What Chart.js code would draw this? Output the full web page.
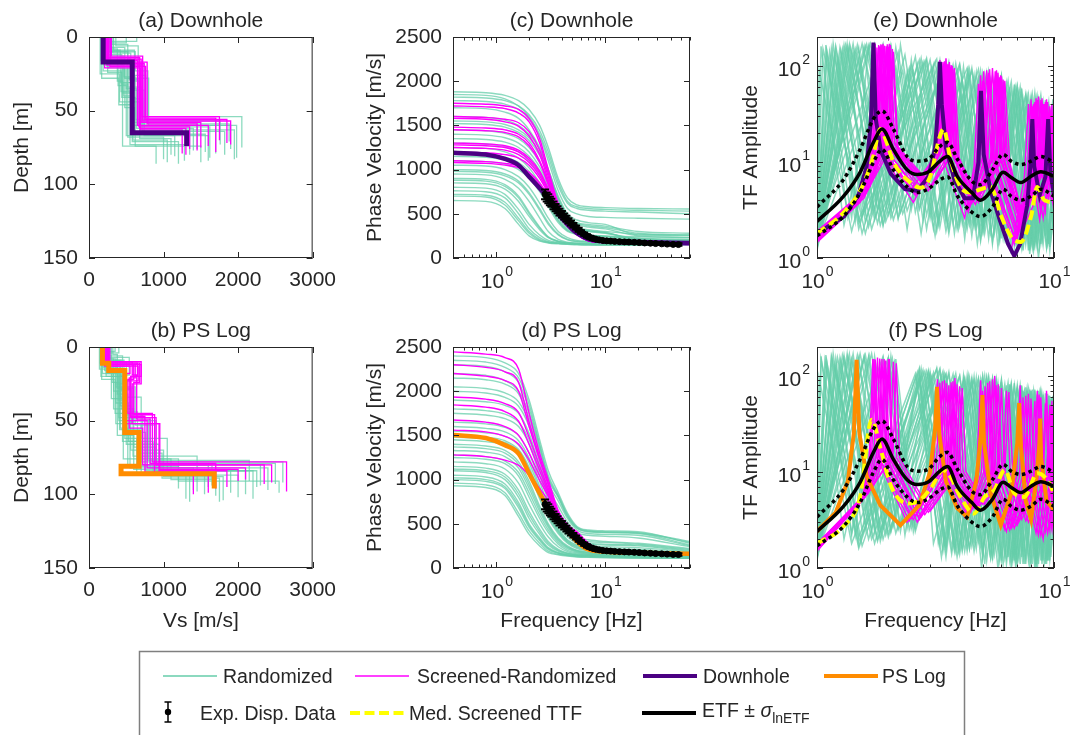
<!DOCTYPE html>
<html>
<head>
<meta charset="utf-8">
<script src="https://cdn.jsdelivr.net/npm/chart.js@4/dist/chart.umd.min.js"></script>
<style>
  body { margin: 0; background: #fff; width: 1075px; height: 735px; overflow: hidden; position: relative; }
  canvas { position: absolute; }
  #legend { position: absolute; left: 0; top: 0; font-family: "Liberation Sans", Arial, sans-serif; font-size: 19.5px; fill: #262626; }
</style>
</head>
<body>
<canvas id="pa" width="346" height="300" style="left:0;top:0"></canvas>
<canvas id="pc" width="346" height="300" style="left:364px;top:0"></canvas>
<canvas id="pe" width="346" height="300" style="left:728px;top:0"></canvas>
<canvas id="pb" width="346" height="338" style="left:0;top:310px"></canvas>
<canvas id="pd" width="346" height="338" style="left:364px;top:310px"></canvas>
<canvas id="pf" width="346" height="338" style="left:728px;top:310px"></canvas>

<svg id="legend" width="1075" height="735">
  <rect x="139.5" y="651.5" width="825" height="110" fill="none" stroke="#7f7f7f" stroke-width="1.5"/>
  <line x1="163" y1="676" x2="217" y2="676" stroke="#66cdaa" stroke-width="1.5"/>
  <text x="223" y="676" dominant-baseline="central">Randomized</text>
  <line x1="355" y1="676" x2="409" y2="676" stroke="#ff00ff" stroke-width="1.5"/>
  <text x="417" y="676" dominant-baseline="central">Screened-Randomized</text>
  <line x1="643" y1="676" x2="697" y2="676" stroke="#4b0082" stroke-width="4"/>
  <text x="703" y="676" dominant-baseline="central">Downhole</text>
  <line x1="824" y1="676" x2="878" y2="676" stroke="#ff8c00" stroke-width="4"/>
  <text x="882" y="676" dominant-baseline="central">PS Log</text>
  <path d="M168 702 V722 M164.5 702 H171.5 M164.5 722 H171.5" stroke="#000" stroke-width="1.5" fill="none"/>
  <circle cx="168" cy="712" r="3.2" fill="#000"/>
  <text x="200" y="713" dominant-baseline="central">Exp. Disp. Data</text>
  <line x1="350" y1="713" x2="405" y2="713" stroke="#ffff00" stroke-width="4" stroke-dasharray="10 4.5"/>
  <text x="409" y="713" dominant-baseline="central">Med. Screened TTF</text>
  <line x1="642" y1="713" x2="696" y2="713" stroke="#000" stroke-width="4"/>
  <text x="702" y="710" dominant-baseline="central">ETF ± <tspan font-style="italic">σ</tspan><tspan font-size="14" dy="8">lnETF</tspan></text>
</svg>

<script>
const FONT = '"Liberation Sans", Arial, sans-serif';
const INK = '#262626';
const C_RAND = 'rgba(102,205,170,0.75)';
const C_SCR = '#ff00ff';
const C_DH = '#4b0082';
const C_PS = '#ff8c00';
const C_MED = '#ffff00';

// Vs profiles: each layer is [Vs m/s, bottom depth m]
const profRandA = [
  [[170,9],[420,31],[560,58],[1450,76]],
  [[220,13],[470,27],[620,56],[1700,79]],
  [[300,5],[520,34],[700,63],[1950,83]],
  [[160,16],[390,33],[500,67],[1150,81]],
  [[260,10],[620,23],[790,54],[2050,75]],
  [[200,19],[460,40],[590,70],[1050,85]],
  [[360,6],[660,19],[740,61],[1620,82]],
  [[190,23],[430,37],[550,73],[1280,84]],
  [[280,14],[540,29],[660,59],[1880,71]],
  [[640,3],[250,21],[480,48],[610,65],[1350,80]],
  [[230,8],[380,30],[450,74],[900,86]],
  [[150,25],[410,44],[680,66],[1560,78]],
  [[320,11],[560,26],[760,57],[1760,73]],
  [[210,17],[500,35],[640,62],[1400,77]],
  [[180,12],[440,32],[520,68],[1000,83]],
  [[240,20],[600,42],[720,64],[1820,80]],
  [[500,4],[200,15],[450,38],[580,71],[1200,86]],
  [[270,7],[480,28],[800,60],[1980,82]],
  [[200,10],[520,36],[740,67],[1600,84]],
  [[170,28],[400,46],[560,60],[1900,76]],
  [[330,9],[610,30],[680,69],[1100,80]],
  [[250,24],[440,41],[620,74],[1500,85]]
];
const profScrA = [
  [[220,15],[700,58],[1500,75]],
  [[250,18],[740,56],[1850,72]],
  [[200,14],[680,62],[1300,80]],
  [[280,20],[760,55],[1700,78]],
  [[230,16],[650,60],[1600,74]],
  [[300,13],[720,57],[1900,73]],
  [[210,21],[690,63],[1250,79]],
  [[260,17],[780,59],[1450,77]],
  [[240,19],[710,54],[1750,70]],
  [[290,15],[670,61],[1350,76]]
];
const profDownhole = [[190,17],[580,65],[1310,74]];

const profRandB = [
  [[160,8],[330,30],[420,55],[520,80],[1600,95]],
  [[200,12],[380,28],[600,50],[900,84],[2100,100]],
  [[280,6],[450,25],[360,52],[700,78],[2600,92]],
  [[140,15],[300,35],[480,62],[640,86],[1300,103]],
  [[240,10],[500,20],[400,48],[820,82],[2400,97]],
  [[180,18],[420,40],[560,70],[1000,88],[1800,104]],
  [[320,5],[380,32],[520,58],[760,84],[2250,95]],
  [[170,22],[350,45],[460,76],[1100,90],[1700,101]],
  [[220,9],[470,27],[620,53],[880,79],[2500,93]],
  [[400,4],[260,17],[440,42],[590,74],[1450,98]],
  [[190,14],[390,36],[500,66],[940,87],[2000,102]],
  [[150,11],[310,24],[410,56],[680,81],[1200,96]],
  [[260,7],[540,19],[480,46],[720,80],[2300,94]],
  [[210,16],[360,38],[530,64],[860,85],[1550,100]],
  [[300,9],[430,30],[380,60],[600,83],[1900,99]],
  [[170,13],[410,29],[570,52],[780,77],[2150,91]],
  [[230,20],[480,44],[650,72],[980,89],[1750,105]],
  [[350,3],[230,18],[400,50],[550,82],[1400,97]],
  [[190,10],[420,34],[700,62],[1050,84],[2200,103]],
  [[250,15],[330,42],[600,68],[900,80],[1650,94]],
  [[160,20],[450,50],[800,76],[1200,91],[2550,99]],
  [[280,8],[360,27],[450,64],[700,87],[1350,105]]
];
const profScrB = [
  [[220,11],[650,20],[560,48],[900,80],[2450,92]],
  [[250,12],[600,22],[520,45],[850,78],[2650,98]],
  [[200,10],[700,25],[580,52],[940,84],[1850,95]],
  [[280,13],[550,18],[500,50],[780,82],[2100,90]],
  [[240,11],[680,24],[600,46],[880,86],[1400,100]],
  [[260,12],[620,21],[540,55],[720,80],[2350,93]],
  [[230,10],[580,19],[640,49],[820,79],[1700,96]],
  [[210,13],[660,23],[500,52],[950,83],[2000,91]],
  [[270,12],[700,20],[560,47],[750,85],[1600,99]]
];
const profPsLog = [[180,11],[265,16],[480,58],[670,81],[430,86],[1680,96]];

// dispersion curves: phase velocity at these frequencies (Hz)
const dispFreq = [0.4, 0.8, 1.2, 1.6, 2, 2.5, 3, 3.7, 4.5, 5.5, 7, 10, 20, 60];
const dispRandC = [
  [1880,1870,1840,1780,1680,1500,1250,900,680,600,580,570,560,555],
  [1850,1840,1800,1720,1600,1400,1150,820,620,560,540,530,520,500],
  [1780,1770,1740,1680,1570,1380,1100,760,560,500,470,460,450,440],
  [1700,1690,1650,1580,1450,1250,1000,700,500,430,400,380,260,250],
  [1600,1590,1560,1500,1400,1230,1000,680,480,400,380,360,300,280],
  [1520,1510,1480,1420,1330,1160,950,650,450,380,350,330,250,230],
  [1450,1440,1410,1350,1250,1080,880,600,420,350,320,300,270,260],
  [1400,1390,1360,1300,1200,1030,830,560,400,340,310,290,200,190],
  [1300,1290,1260,1200,1100,940,760,520,380,330,300,280,220,200],
  [1250,1240,1200,1130,1020,850,680,460,330,280,260,250,240,230],
  [1100,1090,1060,1000,900,750,580,400,300,270,250,240,200,190],
  [1050,1040,1000,920,800,620,450,300,230,200,190,180,175,170],
  [1000,990,950,870,740,560,400,270,210,190,180,175,170,165],
  [950,940,890,790,640,450,300,210,180,170,165,160,160,155],
  [900,890,830,700,520,350,240,190,170,165,160,158,155,150],
  [850,840,780,640,470,320,230,185,170,160,158,155,152,150],
  [800,790,720,550,380,260,200,175,165,160,155,152,150,150],
  [760,750,680,500,330,230,185,170,160,155,152,150,150,150],
  [700,690,600,420,280,200,175,165,160,155,150,150,150,150],
  [650,640,560,380,250,190,170,160,155,150,150,150,150,150],
  [1820,1810,1780,1720,1620,1440,1200,860,640,580,560,550,540,530],
  [1350,1340,1310,1250,1150,990,800,540,390,335,305,285,210,195],
  [1180,1170,1140,1080,980,820,630,430,315,275,255,245,225,210],
  [980,970,930,850,720,540,380,260,205,185,178,172,168,162],
  [880,870,810,680,500,340,235,188,170,163,158,156,153,150],
  [720,710,630,450,300,210,178,166,160,155,152,150,150,150],
  [1550,1540,1510,1450,1360,1190,980,670,470,395,365,345,280,260],
  [1150,1140,1110,1050,950,800,610,420,310,275,255,245,215,200]
];
const dispScrC = [
  [1750,1740,1720,1680,1580,1350,1000,620,420,300,210,185,175,165],
  [1720,1710,1690,1640,1540,1300,960,600,410,295,205,182,172,162],
  [1600,1590,1570,1530,1430,1220,920,590,400,290,205,180,170,160],
  [1580,1570,1540,1490,1380,1170,880,570,395,285,200,180,170,160],
  [1480,1470,1450,1400,1300,1100,850,560,390,285,200,180,168,158],
  [1450,1440,1420,1370,1270,1080,830,550,385,280,200,178,168,158],
  [1300,1290,1270,1220,1130,980,780,540,380,280,200,178,166,156],
  [1280,1270,1250,1200,1110,960,770,530,375,275,198,176,165,155],
  [1250,1240,1220,1170,1080,930,750,520,370,270,196,175,165,155],
  [1200,1190,1170,1130,1050,900,730,510,365,268,195,175,164,154],
  [1100,1090,1070,1040,970,850,700,500,360,265,195,174,163,153],
  [1080,1070,1050,1020,950,830,690,495,355,262,194,173,162,152]
];
const dispDownhole = [1190,1170,1120,1050,920,790,670,500,380,280,215,190,180,170];

const dispRandD = [
  [2400,2380,2320,2200,1900,1450,1100,850,620,470,430,420,410,280],
  [2350,2330,2270,2150,1850,1400,1050,820,600,460,420,410,400,300],
  [2200,2180,2120,2000,1750,1350,1000,800,580,450,410,400,390,260],
  [2150,2130,2080,1970,1700,1300,960,760,560,430,390,380,370,250],
  [2050,2030,1980,1880,1650,1250,900,700,520,400,370,360,340,240],
  [2000,1980,1930,1830,1600,1200,850,620,450,350,320,300,280,220],
  [1800,1780,1740,1650,1450,1100,800,560,400,310,280,270,260,200],
  [1750,1730,1690,1600,1400,1050,760,520,380,300,270,260,250,190],
  [1650,1630,1590,1500,1300,980,700,480,350,280,250,240,230,180],
  [1600,1580,1540,1440,1240,920,650,450,320,260,230,220,210,170],
  [1500,1480,1440,1340,1140,840,600,420,300,240,210,200,190,160],
  [1450,1430,1390,1290,1080,780,560,390,280,220,195,185,175,150],
  [1400,1380,1330,1200,980,700,500,340,250,200,180,170,160,140],
  [1330,1310,1260,1130,900,640,460,310,230,190,170,160,150,130],
  [1250,1230,1180,1040,800,560,400,270,200,170,155,150,140,120],
  [1200,1180,1120,960,720,500,350,240,185,160,150,145,135,120],
  [1150,1130,1060,880,640,440,300,210,170,150,145,140,130,120],
  [1100,1080,1000,800,560,380,260,190,160,145,140,135,125,115],
  [1050,1030,950,740,500,340,230,175,150,140,135,130,120,110],
  [1000,980,900,680,460,310,210,165,145,135,130,125,120,110],
  [960,940,850,620,420,280,190,155,140,130,125,120,115,110],
  [930,910,820,580,380,250,175,150,135,125,120,115,110,110],
  [2300,2280,2220,2100,1800,1380,1020,810,590,455,415,405,395,290],
  [1900,1880,1840,1750,1520,1150,830,600,430,330,300,290,270,210],
  [1550,1530,1490,1390,1190,880,620,430,310,250,220,210,200,165],
  [1370,1350,1300,1170,940,670,480,325,240,195,175,165,155,135],
  [1280,1260,1210,1080,850,600,430,290,215,180,162,155,145,125],
  [1120,1100,1030,840,600,410,280,200,165,148,142,137,127,118],
  [1020,1000,920,710,480,325,220,170,148,137,132,127,120,110],
  [1480,1460,1420,1320,1110,810,580,405,290,230,200,190,180,155]
];
const dispScrD = [
  [2445,2420,2380,2250,1750,1300,1000,650,490,410,280,190,175,160],
  [2300,2270,2220,2100,1650,1250,960,630,480,400,280,190,175,160],
  [2200,2170,2120,2000,1600,1220,940,620,475,400,275,188,174,160],
  [1935,1910,1860,1760,1480,1150,900,600,465,390,270,188,173,158],
  [1845,1820,1770,1660,1400,1100,870,590,460,385,270,186,172,158],
  [1675,1650,1600,1500,1300,1040,840,580,455,380,265,186,172,157],
  [1560,1540,1490,1400,1220,990,810,570,450,375,265,185,171,157],
  [1280,1260,1220,1160,1050,900,760,550,440,370,260,185,170,156]
];
const dispPsLog = [1505,1470,1390,1295,1070,845,680,540,420,300,210,185,172,162];

// experimental dispersion data with error bars
const expFreq = [2.8, 2.9, 3.0, 3.1, 3.2, 3.35, 3.5, 3.65, 3.8, 4.0, 4.2, 4.4, 4.6, 4.85, 5.1, 5.4, 5.7, 6.0, 6.4, 6.8,
  7.2, 7.7, 8.2, 8.8, 9.5, 10.3, 11.2, 12.2, 13.5, 15, 16.5, 18.5, 20.5, 23, 26, 29, 33, 37, 42, 47];
const expVel = [720, 690, 670, 645, 625, 595, 570, 545, 520, 495, 470, 445, 420, 395, 370, 345, 320, 295, 270, 250,
  235, 222, 212, 205, 198, 194, 191, 188, 185, 182, 180, 177, 174, 170, 167, 163, 160, 157, 154, 152];
const expErr = [55, 52, 50, 48, 46, 44, 42, 40, 38, 36, 34, 32, 30, 28, 26, 24, 22, 20, 19, 18,
  18, 17, 17, 16, 16, 16, 16, 15, 15, 15, 15, 15, 15, 14, 14, 14, 14, 14, 14, 14];

// transfer functions: [f, amplitude, f, amplitude, ...]
const ttfRandE = [
  [1,3.0, 1.06,150, 1.6,1.8, 2.5,100, 3.2,1.9, 4.1,70, 4.9,1.6, 5.9,55, 6.8,1.3, 7.9,40, 8.8,1.4, 9.8,35, 10,8],
  [1,1.6, 1.2,160, 1.7,2.0, 2.8,110, 3.6,1.8, 4.6,80, 5.5,1.5, 6.8,50, 7.8,1.2, 9.1,38, 10,2],
  [1,1.4, 1.32,165, 1.9,2.2, 3.0,115, 3.9,2.0, 5.0,75, 6.1,1.6, 7.4,45, 8.5,1.3, 10,30],
  [1,1.3, 1.45,150, 2.1,2.5, 3.4,100, 4.4,2.2, 5.6,70, 6.8,1.5, 8.3,40, 9.4,1.4, 10,4],
  [1,1.5, 1.55,170, 2.2,2.6, 3.7,95, 4.7,2.0, 6.2,60, 7.4,1.3, 9.2,38, 10,5],
  [1,1.8, 1.13,140, 1.5,2.0, 2.3,90, 2.9,2.0, 3.7,75, 4.5,1.7, 5.4,60, 6.3,1.4, 7.2,45, 8.2,1.2, 9.4,35, 10,3],
  [1,1.7, 1.25,155, 1.8,2.3, 2.65,105, 3.3,2.1, 4.3,85, 5.1,1.8, 6.4,55, 7.3,1.3, 8.7,42, 10,2],
  [1,1.4, 1.38,160, 2.0,2.8, 3.15,110, 4.0,2.5, 5.2,80, 6.2,1.7, 7.7,48, 8.9,1.5, 10,20],
  [1,1.9, 1.62,168, 2.3,2.9, 3.9,90, 5.0,2.2, 6.6,55, 8.0,1.4, 9.7,30, 10,8],
  [1,1.2, 1.5,120, 1.9,2.2, 2.4,85, 3.1,2.0, 4.0,70, 4.9,1.5, 6.0,50, 7.0,1.1, 8.4,35, 9.6,1.2, 10,3],
  [1,2.2, 1.02,90, 1.4,1.9, 2.15,100, 2.75,1.8, 3.5,80, 4.2,1.6, 5.0,65, 5.8,1.3, 6.9,48, 7.9,1.1, 9.0,40, 10,1.8],
  [1,1.5, 1.18,130, 1.65,2.1, 2.7,115, 3.5,1.9, 4.8,75, 5.9,1.5, 7.1,52, 8.2,1.2, 9.6,36, 10,10],
  [1,1.35, 1.42,140, 1.95,2.4, 3.25,105, 4.2,2.1, 5.4,72, 6.6,1.4, 8.0,45, 9.3,1.3, 10,6],
  [1,1.6, 1.28,150, 1.75,2.5, 2.9,120, 3.75,2.3, 4.9,90, 5.9,1.7, 7.0,58, 8.1,1.3, 9.4,40, 10,4],
  [1,1.45, 1.6,160, 2.25,3.0, 3.6,85, 4.6,2.4, 5.9,68, 7.1,1.4, 8.6,44, 9.7,1.6, 10,3],
  [1,2.0, 1.1,145, 1.55,1.8, 2.45,95, 3.15,1.7, 3.95,72, 4.75,1.4, 5.7,52, 6.6,1.1, 7.6,38, 8.6,1.0, 9.8,30, 10,12],
  [1,1.3, 1.68,170, 2.4,3.1, 4.0,105, 5.1,2.3, 6.9,62, 8.2,1.5, 10,34],
  [1,1.55, 1.35,155, 1.85,2.2, 3.05,98, 3.95,2.0, 5.1,82, 6.2,1.6, 7.6,50, 8.7,1.3, 10,25],
  [1,1.9, 1.22,120, 1.6,2.4, 2.55,88, 3.25,2.2, 4.25,66, 5.05,1.9, 6.1,46, 7.0,1.6, 8.2,35, 9.2,1.7, 10,20],
  [1,1.25, 1.48,165, 2.05,2.6, 3.5,112, 4.5,2.2, 5.8,78, 6.9,1.5, 8.4,46, 9.5,1.4, 10,6],
  [1,1.7, 1.9,170, 2.5,3.5, 4.3,95, 5.4,2.6, 7.3,55, 8.6,1.8, 10,30],
  [1,1.4, 2.05,165, 2.7,3.2, 4.5,88, 5.6,2.4, 7.6,50, 8.9,1.6, 10,22],
  [1,2.4, 1.04,160, 1.3,2.2, 1.9,120, 2.4,2.0, 3.1,100, 3.8,1.8, 4.7,85, 5.5,1.4, 6.5,60, 7.4,1.2, 8.6,45, 9.6,1.3, 10,10],
  [1,1.6, 1.15,150, 1.45,2.4, 1.75,160, 2.2,2.6, 2.9,110, 3.6,2.0, 4.4,90, 5.3,1.6, 6.3,65, 7.3,1.3, 8.5,48, 10,2],
  [1,1.5, 1.34,170, 1.6,3.0, 2.0,150, 2.5,3.2, 3.3,115, 4.1,2.3, 5.2,85, 6.3,1.6, 7.8,50, 9.0,1.4, 10,15],
  [1,2.0, 1.09,165, 1.35,2.6, 2.2,140, 2.8,2.5, 3.45,100, 4.3,2.0, 5.5,78, 6.7,1.5, 8.0,48, 9.3,1.3, 10,8],
  [1,1.4, 1.26,140, 1.55,2.8, 2.35,130, 3.0,2.6, 3.85,105, 4.9,2.0, 6.4,70, 7.6,1.4, 9.0,42, 10,3],
  [1,1.8, 1.42,170, 1.8,3.2, 2.6,125, 3.25,2.4, 4.5,95, 5.6,1.8, 7.0,62, 8.3,1.4, 9.8,40, 10,12],
  [1,1.3, 1.58,160, 1.9,3.0, 2.25,165, 2.9,2.8, 4.0,100, 5.0,2.2, 6.6,68, 7.8,1.5, 9.5,42, 10,6],
  [1,2.2, 1.17,170, 1.5,2.5, 2.85,112, 3.5,2.4, 4.15,98, 5.0,1.9, 6.0,75, 7.0,1.4, 8.3,52, 9.5,1.5, 10,7],
  [1,1.5, 1.5,155, 1.85,2.8, 3.5,105, 4.3,2.5, 5.3,88, 6.4,1.7, 7.3,58, 8.4,1.4, 9.9,45, 10,20],
  [1,1.7, 1.3,165, 1.7,3.0, 2.05,160, 2.6,3.0, 3.6,110, 4.6,2.1, 6.0,80, 7.0,1.7, 8.8,50, 10,3],
  [1,1.9, 1.66,165, 2.1,3.4, 2.5,115, 3.1,2.6, 4.8,92, 5.8,2.0, 7.2,60, 8.5,1.6, 10,38],
  [1,1.35, 1.2,150, 1.5,2.3, 3.2,118, 4.0,2.2, 5.0,84, 6.0,1.6, 6.8,64, 7.9,1.2, 9.2,44, 10,4],
  [1,1.6, 1.1,120, 1.4,2.6, 1.65,155, 2.05,3.0, 2.75,120, 3.5,2.5, 4.35,92, 5.4,1.8, 6.8,58, 8.0,1.5, 9.5,40, 10,6],
  [1,1.45, 1.37,168, 1.75,2.9, 2.15,155, 2.7,3.3, 3.75,102, 4.7,2.3, 5.7,80, 6.9,1.6, 8.1,50, 9.4,1.5, 10,10]
];
const ttfScrE = [
  [1,1.6, 1.5,4, 1.68,12, 1.76,170, 1.86,14, 2.6,4.5, 3.12,12, 3.3,115, 3.5,12, 4.3,3.2, 4.7,10, 4.9,80, 5.12,10, 6.8,1.4, 7.7,7, 8.0,45, 8.3,7, 8.8,3, 9.3,7, 9.6,35, 9.85,7, 10,4],
  [1,1.7, 1.55,4.5, 1.74,14, 1.82,165, 1.92,14, 2.7,5, 3.25,12, 3.4,110, 3.57,12, 4.4,3.5, 4.98,11, 5.2,90, 5.45,11, 7.0,1.6, 8.0,8, 8.3,42, 8.6,8, 10,5],
  [1,1.5, 1.6,4.8, 1.81,15, 1.9,170, 2.0,15, 2.75,5.5, 3.35,13, 3.5,120, 3.68,13, 4.5,4, 5.25,11, 5.5,95, 5.78,11, 7.2,2, 8.25,8, 8.6,48, 8.95,8, 10,6],
  [1,1.8, 1.62,5, 1.87,15, 1.96,160, 2.06,15, 2.8,6, 3.44,12, 3.6,105, 3.78,12, 4.6,4.2, 5.55,11, 5.8,85, 6.08,11, 7.3,2.5, 8.65,8, 9.0,40, 9.35,8, 10,6],
  [1,1.9, 1.66,5.5, 1.93,16, 2.02,170, 2.12,16, 2.9,6.5, 3.56,12, 3.72,100, 3.9,12, 4.7,4.5, 5.75,11, 6.0,78, 6.3,11, 7.4,2.8, 8.95,8, 9.3,45, 9.65,8, 10,8],
  [1,1.55, 1.58,4.2, 1.98,14, 2.08,150, 2.18,14, 3.0,5.2, 3.64,11, 3.8,95, 3.98,11, 4.8,3.8, 5.95,10, 6.2,70, 6.5,10, 7.5,2.2, 9.25,7, 9.6,38, 9.95,7, 10,6],
  [1,1.45, 1.52,3.8, 1.72,12, 1.79,155, 1.88,12, 2.55,3.8, 3.14,10, 3.28,90, 3.44,10, 4.2,2.6, 4.6,9, 4.8,65, 5.02,9, 6.6,1.2, 7.5,7, 7.8,40, 8.1,7, 8.7,2.5, 9.1,6, 9.4,30, 9.7,6, 10,3],
  [1,1.65, 1.57,4.4, 1.78,14, 1.86,168, 1.95,14, 2.65,4.8, 3.3,12, 3.45,112, 3.62,12, 4.4,3.3, 5.12,11, 5.35,92, 5.6,11, 7.1,1.8, 8.05,8, 8.4,46, 8.75,8, 10,3.5],
  [1,1.75, 1.64,5.2, 1.85,15, 1.93,162, 2.02,15, 2.85,5.8, 3.4,12, 3.55,104, 3.72,12, 4.55,3.9, 5.4,11, 5.65,88, 5.92,11, 7.2,2.3, 8.45,8, 8.8,44, 9.15,8, 10,4.5],
  [1,1.5, 1.54,4.1, 1.91,14, 2.0,158, 2.09,14, 2.95,5.0, 3.5,11, 3.65,98, 3.82,11, 4.65,3.6, 5.65,10, 5.9,76, 6.18,10, 7.3,2.0, 8.75,8, 9.1,40, 9.45,8, 10,5],
  [1,1.6, 1.6,4.6, 2.01,13, 2.1,140, 2.2,13, 3.05,5.6, 3.6,11, 3.75,92, 3.92,11, 4.75,4.0, 5.85,10, 6.1,72, 6.38,10, 7.4,2.6, 9.05,8, 9.4,42, 9.75,8, 10,7],
  [1,1.85, 1.68,5.6, 1.72,20, 1.75,120, 1.8,14, 2.5,5.2, 3.2,12, 3.35,108, 3.5,12, 4.35,3.0, 4.8,9, 5.0,70, 5.22,9, 6.9,1.5, 7.8,7, 8.1,38, 8.4,7, 9.0,2.6, 9.5,7, 9.8,40, 10,8],
  [1,1.7, 1.6,4.8, 1.8,15, 1.88,165, 1.97,15, 2.7,5.3, 3.28,12, 3.43,106, 3.6,12, 4.5,3.7, 5.1,11, 5.3,85, 5.55,11, 7.0,1.8, 8.15,8, 8.5,44, 8.85,8, 9.5,4, 9.8,30, 10,6],
  [1,1.6, 1.63,5, 1.95,15, 2.04,165, 2.13,15, 2.9,6, 3.52,12, 3.68,102, 3.86,12, 4.7,4.2, 5.7,10, 5.95,80, 6.22,10, 7.35,2.6, 8.85,8, 9.2,42, 9.55,8, 10,7],
  [1,1.5, 1.56,4.3, 1.76,13, 1.84,160, 1.93,13, 2.6,4.6, 3.22,11, 3.36,100, 3.52,11, 4.35,3.2, 4.85,10, 5.05,88, 5.27,10, 6.9,1.5, 7.9,7, 8.2,40, 8.5,7, 9.2,3, 9.7,30, 10,5],
  [1,1.8, 1.65,5.4, 1.89,15, 1.98,168, 2.07,15, 2.8,6.2, 3.47,12, 3.62,110, 3.79,12, 4.6,4.0, 5.48,11, 5.72,90, 5.98,11, 7.25,2.4, 8.55,8, 8.9,46, 9.25,8, 10,5]
];
const ttfDownhole = [1,1.8, 1.3,2.7, 1.5,4.6, 1.62,9, 1.69,28, 1.73,175, 1.77,28, 1.86,13, 2.05,7.5, 2.35,5.2, 2.65,5,
  2.95,7, 3.15,14, 3.25,40, 3.3,110, 3.36,40, 3.5,14, 3.8,6.5, 4.2,4.2, 4.55,4.2, 4.8,10, 4.92,55, 5.05,12, 5.4,5,
  5.9,2.5, 6.4,1.4, 6.8,1.05, 7.2,1.4, 7.7,3.5, 7.95,9, 8.1,28, 8.25,9, 8.7,4.5, 9.2,7, 9.45,28, 9.65,8, 10,4.5];
const medTtfE = [1,1.8, 1.3,3.0, 1.55,5.5, 1.72,11, 1.85,22, 1.95,17, 2.1,10, 2.48,6.1, 2.73,5.4, 3.0,7, 3.3,18.5, 3.42,22,
  3.66,10.6, 4.03,5.5, 4.45,4.8, 4.9,5.2, 5.4,5.5, 6.0,2.7, 6.6,1.66, 7.25,1.47, 8.0,2.7, 8.5,5.5, 9.1,4.0, 10,3.8];

const ttfRandF = [
  [1,2.5, 1.04,150, 1.5,1.6, 2.65,110, 3.4,1.5, 4.4,95, 5.2,1.2, 6.3,80, 7.2,1.1, 8.3,70, 9.3,1.2, 10,40],
  [1,1.6, 1.15,160, 1.75,1.8, 2.8,115, 3.7,1.4, 4.8,90, 5.8,1.0, 7.0,75, 8.1,1.1, 9.4,65, 10,3],
  [1,1.4, 1.28,165, 1.9,2.0, 3.0,105, 3.9,1.3, 5.1,100, 6.1,1.1, 7.4,70, 8.5,1.0, 10,55],
  [1,1.3, 1.4,150, 2.0,2.1, 3.2,120, 4.1,1.5, 5.4,85, 6.5,1.2, 7.9,65, 9.1,1.1, 10,4],
  [1,1.5, 1.52,170, 2.15,2.3, 3.4,100, 4.4,1.6, 5.7,90, 6.8,1.3, 8.3,60, 9.6,1.2, 10,3],
  [1,1.8, 1.1,140, 1.55,1.7, 2.7,95, 3.5,1.3, 4.3,100, 5.1,1.1, 6.0,80, 6.9,1.0, 7.9,72, 8.9,1.1, 10,60],
  [1,1.7, 1.22,155, 1.8,1.9, 2.9,112, 3.8,1.6, 4.9,92, 5.9,1.2, 7.2,78, 8.3,1.0, 9.6,62, 10,8],
  [1,1.4, 1.35,160, 1.95,2.2, 3.1,108, 4.0,1.4, 5.3,96, 6.3,1.1, 7.6,76, 8.8,1.2, 10,50],
  [1,1.9, 1.6,165, 2.2,2.5, 3.6,102, 4.6,1.8, 6.0,88, 7.1,1.3, 8.7,66, 10,2],
  [1,1.2, 1.45,120, 1.85,1.9, 2.75,100, 3.5,1.6, 4.5,88, 5.4,1.3, 6.6,74, 7.6,1.1, 8.9,64, 10,5],
  [1,2.2, 1.02,95, 1.4,1.8, 2.6,105, 3.3,1.7, 4.2,92, 5.0,1.4, 5.9,78, 6.8,1.2, 7.7,70, 8.6,1.1, 9.7,58, 10,20],
  [1,1.5, 1.18,130, 1.7,2.0, 3.3,118, 4.2,1.5, 5.5,94, 6.6,1.2, 8.0,70, 9.2,1.1, 10,30],
  [1,1.35, 1.42,140, 2.0,2.3, 3.5,104, 4.5,1.7, 5.8,86, 6.9,1.4, 8.5,63, 9.7,1.3, 10,4],
  [1,1.6, 1.3,150, 1.85,2.1, 2.95,110, 3.85,1.5, 5.0,98, 6.0,1.2, 7.3,80, 8.4,1.1, 9.8,60, 10,12],
  [1,1.45, 1.58,160, 2.2,2.6, 3.8,96, 4.8,1.9, 6.2,82, 7.4,1.5, 9.0,60, 10,3],
  [1,2.0, 1.08,145, 1.5,1.7, 2.62,98, 3.35,1.3, 4.15,90, 4.95,1.0, 5.8,76, 6.6,1.0, 7.5,68, 8.4,1.0, 9.4,56, 10,5],
  [1,1.3, 1.7,170, 2.25,2.8, 4.0,100, 5.1,1.9, 6.6,80, 7.9,1.4, 9.8,52, 10,30],
  [1,1.55, 1.25,155, 1.8,2.0, 3.05,100, 3.95,1.5, 5.2,96, 6.2,1.3, 7.7,74, 8.9,1.2, 10,45],
  [1,1.9, 1.2,120, 1.65,2.0, 2.7,92, 3.45,1.8, 4.5,86, 5.35,1.5, 6.4,72, 7.3,1.3, 8.5,64, 9.5,1.4, 10,30],
  [1,1.25, 1.48,165, 2.05,2.4, 3.4,112, 4.4,1.6, 5.6,90, 6.7,1.3, 8.2,70, 9.4,1.2, 10,8],
  [1,1.7, 1.9,160, 2.5,3.0, 4.2,95, 5.3,2.2, 7.0,75, 8.4,1.6, 10,55],
  [1,1.4, 2.0,155, 2.55,2.8, 4.6,90, 5.7,2.0, 7.5,70, 8.9,1.5, 10,35],
  [1,2.4, 1.04,160, 1.3,2.0, 1.9,150, 2.35,2.2, 3.0,110, 3.8,1.5, 4.7,95, 5.5,1.2, 6.5,82, 7.4,1.1, 8.6,70, 9.6,1.2, 10,20],
  [1,1.6, 1.15,150, 1.45,2.2, 1.75,160, 2.25,2.4, 2.95,112, 3.7,1.6, 4.6,98, 5.5,1.3, 6.5,80, 7.5,1.1, 8.8,66, 10,4],
  [1,1.5, 1.34,170, 1.6,2.6, 2.0,150, 2.4,2.6, 3.3,115, 4.1,1.6, 5.2,95, 6.3,1.3, 7.8,72, 9.0,1.2, 10,25],
  [1,2.0, 1.09,165, 1.4,2.3, 2.12,140, 2.55,2.4, 3.45,104, 4.3,1.5, 5.5,92, 6.7,1.2, 8.0,70, 9.3,1.1, 10,12],
  [1,1.4, 1.26,140, 1.55,2.4, 2.08,150, 2.6,2.6, 3.85,106, 4.9,1.7, 6.4,85, 7.6,1.3, 9.0,64, 10,3],
  [1,1.8, 1.42,170, 1.8,2.6, 2.7,118, 3.25,1.8, 4.5,96, 5.6,1.4, 7.0,80, 8.3,1.2, 9.8,60, 10,12],
  [1,1.3, 1.58,160, 1.9,2.5, 2.15,150, 2.6,2.4, 4.0,100, 5.0,1.6, 6.6,84, 7.8,1.2, 9.5,62, 10,6],
  [1,2.2, 1.17,170, 1.5,2.1, 2.85,112, 3.5,1.6, 4.15,100, 5.0,1.3, 6.0,86, 7.0,1.1, 8.3,72, 9.5,1.2, 10,7],
  [1,1.5, 1.5,155, 1.85,2.4, 3.5,105, 4.3,1.7, 5.3,96, 6.4,1.3, 7.3,78, 8.4,1.1, 9.9,62, 10,20],
  [1,1.7, 1.3,165, 1.7,2.4, 2.05,160, 2.5,2.6, 3.6,110, 4.6,1.5, 6.0,92, 7.0,1.2, 8.8,70, 10,3],
  [1,1.9, 1.66,165, 2.1,2.8, 2.7,115, 3.1,1.8, 4.8,95, 5.8,1.5, 7.2,80, 8.5,1.3, 10,58],
  [1,1.35, 1.2,150, 1.5,1.9, 3.2,118, 4.0,1.6, 5.0,98, 6.0,1.2, 6.8,84, 7.9,1.0, 9.2,66, 10,4],
  [1,1.6, 1.1,120, 1.4,2.2, 1.65,155, 2.05,2.4, 2.75,120, 3.5,1.8, 4.35,100, 5.4,1.3, 6.8,80, 8.0,1.1, 9.5,62, 10,6],
  [1,1.45, 1.37,168, 1.75,2.4, 2.0,155, 2.45,2.5, 3.75,104, 4.7,1.6, 5.7,92, 6.9,1.2, 8.1,72, 9.4,1.2, 10,10]
];
const ttfScrF = [
  [1,1.5, 1.55,5, 1.66,14, 1.72,150, 1.79,14, 2.4,3.0, 3.18,10, 3.3,85, 3.43,10, 4.3,3.5, 4.82,10, 5.0,70, 5.2,10, 6.3,2.4, 7.15,9, 7.4,60, 7.65,9, 8.6,2.2, 9.3,8, 9.6,50, 9.9,8, 10,3],
  [1,1.6, 1.6,5.5, 1.74,15, 1.8,155, 1.87,15, 2.55,3.2, 3.32,10, 3.45,90, 3.58,10, 4.45,3.8, 5.05,10, 5.25,85, 5.45,10, 6.6,2.6, 7.55,9, 7.8,65, 8.05,9, 9.0,2.0, 9.7,8, 10,40],
  [1,1.7, 1.65,6, 1.82,15, 1.88,150, 1.95,15, 2.65,3.0, 3.47,10, 3.6,80, 3.74,10, 4.6,4.2, 5.3,10, 5.5,92, 5.7,10, 6.9,2.8, 8.0,9, 8.3,55, 8.6,9, 9.4,2.3, 10,6],
  [1,1.55, 1.68,6.5, 1.88,15, 1.95,145, 2.02,15, 2.75,3.4, 3.62,10, 3.75,88, 3.89,10, 4.75,4.5, 5.5,10, 5.7,80, 5.92,10, 7.1,3.0, 8.5,9, 8.8,60, 9.1,9, 10,2.5],
  [1,1.65, 1.72,7, 1.95,15, 2.02,150, 2.09,15, 2.85,3.6, 3.76,10, 3.9,82, 4.04,10, 4.85,4.4, 5.78,10, 6.0,75, 6.22,10, 7.3,3.2, 8.9,9, 9.2,52, 9.5,9, 10,4],
  [1,1.5, 1.75,7.5, 2.03,14, 2.1,140, 2.17,14, 2.95,3.8, 3.86,10, 4.0,78, 4.14,10, 5.0,4.6, 6.07,10, 6.3,70, 6.53,10, 7.6,3.1, 9.3,9, 9.6,48, 9.9,9, 10,8],
  [1,1.8, 1.58,5.6, 1.7,14, 1.76,148, 1.83,14, 2.5,3.3, 3.26,10, 3.38,88, 3.51,10, 4.35,3.6, 4.94,10, 5.12,78, 5.3,10, 6.5,2.5, 7.35,9, 7.6,62, 7.85,9, 8.8,2.2, 9.6,8, 9.9,45, 10,10],
  [1,1.6, 1.62,6, 1.78,15, 1.84,152, 1.91,15, 2.6,3.5, 3.39,10, 3.52,84, 3.65,10, 4.5,4.0, 5.16,10, 5.35,88, 5.55,10, 6.7,2.7, 7.75,9, 8.0,58, 8.25,9, 9.2,2.4, 10,12],
  [1,1.7, 1.62,6, 1.93,15, 2.0,150, 2.07,15, 2.7,3.2, 3.68,10, 3.82,95, 3.96,10, 4.7,4, 5.42,10, 5.62,100, 5.82,10, 6.8,2.6, 8.2,9, 8.5,70, 8.8,9, 9.6,2.5, 10,10],
  [1,1.55, 1.56,5.2, 1.68,15, 1.74,150, 1.81,15, 2.45,3.1, 3.1,10, 3.22,92, 3.35,10, 4.2,3.4, 4.72,10, 4.9,90, 5.08,10, 6.2,2.5, 6.95,9, 7.2,80, 7.45,9, 8.4,2.3, 9.0,8, 9.3,70, 9.6,8, 10,3],
  [1,1.75, 1.7,7, 2.09,14, 2.16,135, 2.23,14, 3.0,3.9, 3.95,10, 4.1,75, 4.25,10, 5.1,4.6, 6.2,10, 6.45,68, 6.7,10, 7.8,3.0, 9.5,9, 9.8,55, 10,10],
  [1,1.65, 1.6,5.8, 1.86,15, 1.92,150, 1.99,15, 2.68,3.4, 3.54,10, 3.68,86, 3.82,10, 4.65,4.2, 5.6,10, 5.82,82, 6.04,10, 7.0,2.8, 8.35,9, 8.65,64, 8.95,9, 9.8,2.5, 10,5]
];
const ttfPsLog = [1,2.4, 1.2,3.8, 1.35,8, 1.43,25, 1.47,147, 1.51,25, 1.62,9, 1.85,4.5, 2.25,2.8, 2.7,4.5, 3.0,10, 3.15,28,
  3.21,77, 3.28,25, 3.5,8, 3.9,4.2, 4.3,3.4, 4.7,8, 4.92,25, 4.99,63, 5.07,20, 5.4,6, 5.96,2.8, 6.6,6, 7.0,20, 7.13,52,
  7.26,18, 7.6,5, 8.0,3.2, 8.45,9, 8.68,20, 8.74,36, 8.82,14, 9.3,5, 10,4];
const medTtfF = [1,1.8, 1.29,2.7, 1.52,5.5, 1.7,35, 1.86,17, 2.06,7, 2.4,4.7, 2.73,5.1, 3.05,7, 3.4,10.5, 3.66,8.9,
  4.03,5.5, 4.6,3.7, 5.1,5.5, 5.6,6.5, 6.2,10.5, 6.8,6, 7.5,5.5, 8.5,9.7, 9.4,8.2, 10,6];

// empirical transfer function, median and +/- one sigma
const etfFreq = [1, 1.29, 1.52, 1.73, 1.88, 2.1, 2.4, 2.65, 2.93, 3.3, 3.55, 3.92, 4.5, 4.9, 5.5, 6.1, 6.6, 7.25, 8.0, 8.8, 10];
const etfMed = [2.4, 4.35, 7.8, 16, 22, 13.5, 8.3, 7.4, 7.8, 10.2, 11.4, 7, 4.8, 4.0, 5.2, 7.8, 6.9, 6.1, 7.1, 7.9, 7.1];
const etfHi = [3.4, 6.5, 13.5, 28, 34, 22, 11.4, 10.2, 10.6, 14.5, 16, 10.6, 6.3, 5.8, 8.3, 12, 10.2, 9.4, 10.2, 11.4, 9.9];
const etfLo = [1.7, 2.7, 4.8, 9.9, 13.5, 8.3, 5.5, 4.8, 5.2, 6.5, 7, 4.4, 3.0, 2.7, 3.4, 5.2, 4.4, 4.0, 4.4, 5.2, 4.4];

// axis ticks
const logMinorDisp = [0.4, 0.5, 0.6, 0.7, 0.8, 0.9, 2, 3, 4, 5, 6, 7, 8, 9, 20, 30, 40, 50, 60];
const logMinorTf = [2, 3, 4, 5, 6, 7, 8, 9];
const logMinorAmp = [2, 3, 4, 5, 6, 7, 8, 9, 20, 30, 40, 50, 60, 70, 80, 90, 200];


function profilePoints(layers) {
  const pts = [];
  let top = 0;
  layers.forEach(([vs, bot]) => {
    pts.push({ x: vs, y: top }, { x: vs, y: bot });
    top = bot;
  });
  return pts;
}

function curvePoints(xs, ys) {
  return xs.map((x, i) => ({ x: x, y: ys[i] }));
}

function pairPoints(flat) {
  const pts = [];
  for (let i = 0; i < flat.length; i += 2) pts.push({ x: flat[i], y: flat[i + 1] });
  return pts;
}

const MONO = { cubicInterpolationMode: 'monotone' };

function line(points, color, width, order, extra) {
  return Object.assign({
    data: points, borderColor: color, backgroundColor: color, borderWidth: width,
    pointRadius: 0, showLine: true, fill: false, tension: 0, order: order, clip: 0
  }, extra || {});
}

function expDataset() {
  return {
    data: curvePoints(expFreq, expVel), showLine: false, pointRadius: 3,
    pointBackgroundColor: '#000', pointBorderColor: '#000', order: 0, clip: 0
  };
}

function drawPow(ctx, x, y, e, align) {
  ctx.textBaseline = 'middle';
  ctx.textAlign = 'left';
  ctx.font = '21px ' + FONT;
  const w1 = ctx.measureText('10').width;
  ctx.font = '14px ' + FONT;
  const w2 = ctx.measureText(e).width;
  const x0 = align === 'center' ? x - (w1 + w2) / 2 : x - w1 - w2;
  ctx.font = '21px ' + FONT;
  ctx.fillText('10', x0, y);
  ctx.font = '14px ' + FONT;
  ctx.fillText(e, x0 + w1 + 1, y - 10);
}

function drawErrorBars(chart) {
  const { ctx, chartArea: a } = chart;
  const sx = chart.scales.x, sy = chart.scales.y;
  ctx.save();
  ctx.beginPath();
  ctx.rect(a.left, a.top, a.right - a.left, a.bottom - a.top);
  ctx.clip();
  ctx.strokeStyle = '#000';
  ctx.lineWidth = 2;
  expFreq.forEach((f, i) => {
    const x = sx.getPixelForValue(f);
    const lo = sy.getPixelForValue(expVel[i] - expErr[i]);
    const hi = sy.getPixelForValue(expVel[i] + expErr[i]);
    ctx.beginPath();
    ctx.moveTo(x, lo); ctx.lineTo(x, hi);
    ctx.moveTo(x - 4, lo); ctx.lineTo(x + 4, lo);
    ctx.moveTo(x - 4, hi); ctx.lineTo(x + 4, hi);
    ctx.stroke();
  });
  ctx.restore();
}

// box, inward ticks, power-of-ten labels and panel title
const framePlugin = {
  id: 'frame',
  afterDatasetsDraw(chart, args, o) {
    if (o.errorBars) drawErrorBars(chart);
  },
  afterDraw(chart, args, o) {
    const { ctx, chartArea: a } = chart;
    const sx = chart.scales.x, sy = chart.scales.y;
    ctx.save();
    ctx.strokeStyle = INK;
    ctx.lineWidth = 1;
    ctx.strokeRect(a.left + 0.5, a.top + 0.5, a.right - a.left - 1, a.bottom - a.top - 1);
    const ticks = (scale, vals, len, horiz) => {
      vals.forEach(v => {
        const p = Math.round(scale.getPixelForValue(v)) + 0.5;
        ctx.beginPath();
        if (horiz) {
          ctx.moveTo(p, a.bottom); ctx.lineTo(p, a.bottom - len);
          ctx.moveTo(p, a.top); ctx.lineTo(p, a.top + len);
        } else {
          ctx.moveTo(a.left, p); ctx.lineTo(a.left + len, p);
          ctx.moveTo(a.right, p); ctx.lineTo(a.right - len, p);
        }
        ctx.stroke();
      });
    };
    ticks(sx, o.xMajor, 6, true);
    ticks(sx, o.xMinor || [], 3.5, true);
    ticks(sy, o.yMajor, 6, false);
    ticks(sy, o.yMinor || [], 3.5, false);
    ctx.fillStyle = INK;
    if (o.xPow) o.xPow.forEach(([v, e]) => drawPow(ctx, sx.getPixelForValue(v), a.bottom + 24, e, 'center'));
    if (o.yPow) o.yPow.forEach(([v, e]) => drawPow(ctx, a.left - 8, sy.getPixelForValue(v) + 4, e, 'right'));
    ctx.font = '21px ' + FONT;
    ctx.textAlign = 'center';
    ctx.textBaseline = 'middle';
    ctx.fillText(o.title, (a.left + a.right) / 2, a.top - 16);
    ctx.restore();
  }
};

function makeChart(id, cfg) {
  const tickFont = { family: FONT, size: 21 };
  const titleFont = { family: FONT, size: 21, lineHeight: 1 };
  const plain = v => String(v);
  return new Chart(document.getElementById(id), {
    type: 'scatter',
    data: { datasets: cfg.datasets },
    options: {
      responsive: false,
      animation: false,
      events: [],
      layout: { padding: { top: 37, right: 20, left: 0, bottom: 0 } },
      plugins: { legend: { display: false }, tooltip: { enabled: false }, frame: cfg.frame },
      scales: {
        x: Object.assign({
          position: 'bottom',
          grid: { display: false, drawTicks: false },
          border: { display: false },
          ticks: Object.assign({ color: INK, font: tickFont, padding: 10, maxRotation: 0, autoSkip: false, callback: plain }, cfg.xTicks),
          title: cfg.xTitle
            ? { display: true, text: cfg.xTitle, color: INK, font: titleFont, padding: { top: 0, bottom: 16 } }
            : { display: false },
          afterFit: s => { s.height = cfg.xh; }
        }, cfg.x),
        y: Object.assign({
          position: 'left',
          grid: { display: false, drawTicks: false },
          border: { display: false },
          ticks: Object.assign({ color: INK, font: tickFont, padding: 11, autoSkip: false, callback: plain }, cfg.yTicks),
          title: { display: true, text: cfg.yTitle, color: INK, font: titleFont, padding: { top: cfg.yPad, bottom: 0 } },
          afterFit: s => { s.width = 89; }
        }, cfg.y)
      }
    },
    plugins: [framePlugin]
  });
}

// (a) and (b) Vs profiles
function profilePanel(id, title, rand, scr, ref, refColor, xTitle, xh) {
  makeChart(id, {
    datasets: [
      ...rand.map(p => line(profilePoints(p), C_RAND, 1.3, 5)),
      ...scr.map(p => line(profilePoints(p), C_SCR, 1.3, 4)),
      line(profilePoints(ref), refColor, 5, 3)
    ],
    x: { type: 'linear', min: 0, max: 3000 },
    xTicks: { stepSize: 1000 },
    y: { type: 'linear', min: 0, max: 150, reverse: true },
    yTicks: { stepSize: 50 },
    xTitle: xTitle, yTitle: 'Depth [m]', yPad: 11.5, xh: xh,
    frame: { title: title, xMajor: [0, 1000, 2000, 3000], yMajor: [0, 50, 100, 150] }
  });
}

// (c) and (d) dispersion
function dispPanel(id, title, rand, scr, ref, refColor, xTitle, xh) {
  makeChart(id, {
    datasets: [
      ...rand.map(v => line(curvePoints(dispFreq, v), C_RAND, 1.4, 5, MONO)),
      ...scr.map(v => line(curvePoints(dispFreq, v), C_SCR, 1.4, 4, MONO)),
      line(curvePoints(dispFreq, ref), refColor, 4.5, 3, MONO),
      expDataset()
    ],
    x: { type: 'logarithmic', min: 0.4, max: 60 },
    xTicks: { display: false },
    y: { type: 'linear', min: 0, max: 2500 },
    yTicks: { stepSize: 500 },
    xTitle: xTitle, yTitle: 'Phase Velocity [m/s]', yPad: 1, xh: xh,
    frame: {
      title: title, errorBars: true,
      xMajor: [1, 10], xMinor: logMinorDisp, xPow: [[1, '0'], [10, '1']],
      yMajor: [0, 500, 1000, 1500, 2000, 2500]
    }
  });
}

// (e) and (f) transfer functions
function tfPanel(id, title, rand, scr, ref, refColor, med, xTitle, xh) {
  const dots = Object.assign({ borderDash: [3.5, 3.5] }, MONO);
  makeChart(id, {
    datasets: [
      ...rand.map(v => line(pairPoints(v), C_RAND, 1.5, 6)),
      ...scr.map(v => line(pairPoints(v), C_SCR, 1.4, 5)),
      line(pairPoints(ref), refColor, 4, 4),
      line(pairPoints(med), C_MED, 4, 3, Object.assign({ borderDash: [10, 5] }, MONO)),
      line(curvePoints(etfFreq, etfHi), '#000', 3.5, 2, dots),
      line(curvePoints(etfFreq, etfLo), '#000', 3.5, 2, dots),
      line(curvePoints(etfFreq, etfMed), '#000', 3.5, 1, MONO)
    ],
    x: { type: 'logarithmic', min: 1, max: 10 },
    xTicks: { display: false },
    y: { type: 'logarithmic', min: 1, max: 200 },
    yTicks: { display: false },
    xTitle: xTitle, yTitle: 'TF Amplitude', yPad: 13, xh: xh,
    frame: {
      title: title,
      xMajor: [1, 10], xMinor: logMinorTf, xPow: [[1, '0'], [10, '1']],
      yMajor: [1, 10, 100], yMinor: logMinorAmp, yPow: [[1, '0'], [10, '1'], [100, '2']]
    }
  });
}

profilePanel('pa', '(a) Downhole', profRandA, profScrA, profDownhole, C_DH, null, 42);
profilePanel('pb', '(b) PS Log', profRandB, profScrB, profPsLog, C_PS, 'Vs [m/s]', 80);
dispPanel('pc', '(c) Downhole', dispRandC, dispScrC, dispDownhole, C_DH, null, 42);
dispPanel('pd', '(d) PS Log', dispRandD, dispScrD, dispPsLog, C_PS, 'Frequency [Hz]', 80);
tfPanel('pe', '(e) Downhole', ttfRandE, ttfScrE, ttfDownhole, C_DH, medTtfE, null, 42);
tfPanel('pf', '(f) PS Log', ttfRandF, ttfScrF, ttfPsLog, C_PS, medTtfF, 'Frequency [Hz]', 80);
</script>
</body>
</html>
